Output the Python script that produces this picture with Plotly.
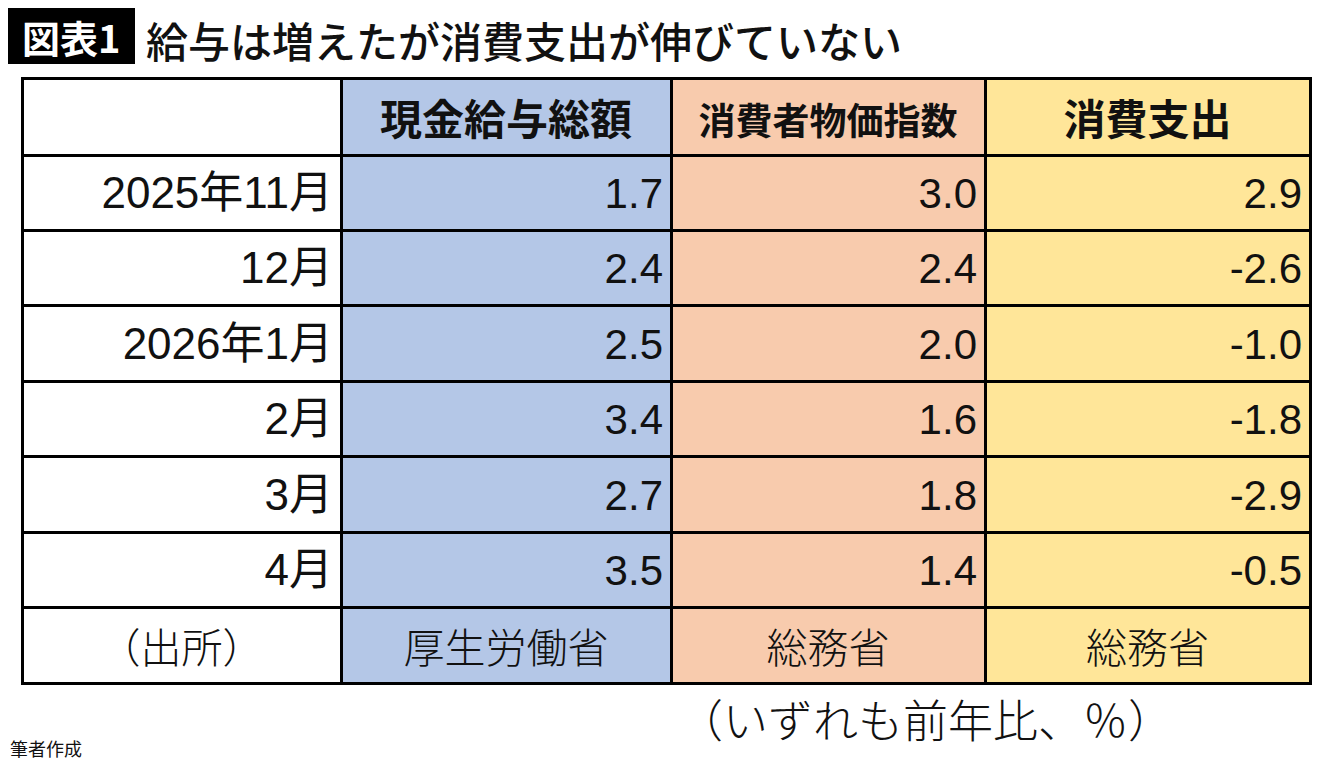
import plotly.graph_objects as go

months = ["2025年11月", "12月", "2026年1月", "2月", "3月", "4月"]
wages = [1.7, 2.4, 2.5, 3.4, 2.7, 3.5]
cpi = [3.0, 2.4, 2.0, 1.6, 1.8, 1.4]
spending = [2.9, -2.6, -1.0, -1.8, -2.9, -0.5]
headers = ["", "現金給与総額", "消費者物価指数", "消費支出"]
sources = ["（出所）", "厚生労働省", "総務省", "総務省"]

title_tag = "図表1"
title_text = "給与は増えたが消費支出が伸びていない"
unit_note = "（いずれも前年比、％）"
credit = "筆者作成"

W, H = 1340, 764
OFF = 8  # page body margin offset
CJK = "Noto Sans CJK JP"
NUM = "Liberation Sans Narrow, Liberation Sans, Noto Sans CJK JP"
BLUE, ORANGE, YELLOW = "#B4C7E7", "#F8CBAD", "#FFE699"
FILLS = ["white", BLUE, ORANGE, YELLOW]
WIDTHS = [319, 330, 314, 325]


def px(x):
    return (x - OFF) / W


def py(y):
    return 1 - (y - OFF) / H


X_DOM = [px(22), px(1310)]


def lifted(s, size=50):
    return f'<span style="font-size:{size}px">\u00a0</span>{s}<br>'


def centered(s, size=None):
    if not s:
        return s
    if size is None:
        return f'{s}<br>'
    pad = f'<span style="font-size:{size}px">\u00a0</span>'
    return f'{pad}{s}{pad}<br>'


def fmt(vals):
    return [lifted(f"{v:.1f}") for v in vals]


fig = go.Figure()
fig.add_trace(go.Table(
    domain=dict(x=X_DOM, y=[py(608), py(78)]),
    columnwidth=WIDTHS,
    header=dict(
        values=[centered(h, 42) for h in headers],
        fill=dict(color=FILLS),
        line=dict(color="black", width=3),
        align="center",
        height=77,
        font=dict(family=CJK, size=[42, 42, 37, 42], color="#111111", weight="bold"),
    ),
    cells=dict(
        values=[[lifted(m) for m in months], fmt(wages), fmt(cpi), fmt(spending)],
        fill=dict(color=FILLS),
        line=dict(color="black", width=3),
        align="right",
        height=75.4,
        font=dict(family=NUM, size=[44, 42, 42, 42], color="#111111"),
    ),
))
fig.add_trace(go.Table(
    domain=dict(x=X_DOM, y=[py(764), py(607)]),
    columnwidth=WIDTHS,
    header=dict(
        values=[centered(s) for s in sources],
        fill=dict(color=FILLS),
        line=dict(color="black", width=3),
        align="center",
        height=76,
        font=dict(family=CJK, size=41, color="#111111", weight=300),
    ),
    cells=dict(values=[[], [], [], []], height=1, line=dict(width=0)),
))

fig.add_shape(type="rect", xref="paper", yref="paper",
              x0=px(8), x1=px(135), y0=py(64), y1=py(8),
              fillcolor="black", line=dict(width=0), layer="below")
fig.add_annotation(x=px(71), y=1, xref="paper", yref="paper",
                   text=title_tag, showarrow=False, xanchor="center", yanchor="top",
                   borderpad=0,
                   font=dict(family=CJK, size=38, color="white", weight="bold"))
fig.add_annotation(x=px(145), y=1, xref="paper", yref="paper",
                   text=title_text, showarrow=False, xanchor="left", yanchor="top",
                   borderpad=0,
                   font=dict(family=CJK, size=42, color="#111111", weight=500))
fig.add_annotation(x=px(925), y=py(718), xref="paper", yref="paper",
                   text=unit_note, showarrow=False, xanchor="center", yanchor="middle",
                   font=dict(family=CJK, size=45, color="#111111", weight=300))
fig.add_annotation(x=px(8), y=py(748), xref="paper", yref="paper",
                   text=credit, showarrow=False, xanchor="left", yanchor="middle",
                   font=dict(family=CJK, size=18, color="#111111"))

fig.update_layout(width=W, height=H, margin=dict(l=0, r=0, t=0, b=0),
                  paper_bgcolor="white", plot_bgcolor="white")
fig.write_html("out.html")
